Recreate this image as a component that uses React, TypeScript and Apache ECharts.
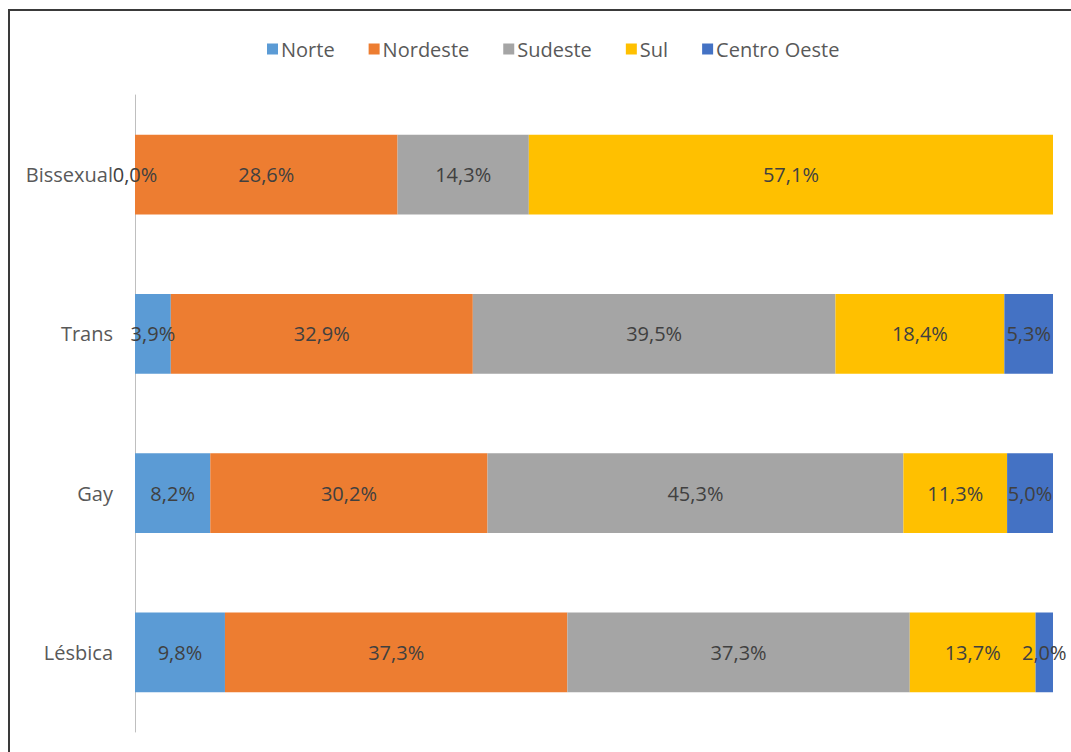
import React, { useEffect, useRef } from "react";
import * as echarts from "echarts";

const categories = ["Lésbica", "Gay", "Trans", "Bissexual"];
const seriesNames = ["Norte", "Nordeste", "Sudeste", "Sul", "Centro Oeste"];
const norte = [9.8, 8.2, 3.9, 0.0];
const nordeste = [37.3, 30.2, 32.9, 28.6];
const sudeste = [37.3, 45.3, 39.5, 14.3];
const sul = [13.7, 11.3, 18.4, 57.1];
const centroOeste = [2.0, 5.0, 5.3, null];
const colors = ["#5B9BD5", "#ED7D31", "#A5A5A5", "#FFC000", "#4472C4"];

export default function App() {
  const ref = useRef<HTMLDivElement>(null);
  useEffect(() => {
    document.body.style.margin = "0";
    const chart = echarts.init(ref.current!, undefined, { renderer: "svg" });
    const data = [norte, nordeste, sudeste, sul, centroOeste];
    chart.setOption({
      animation: false,
      color: colors,
      legend: {
        top: 34,
        left: 262,
        itemWidth: 11,
        itemHeight: 11,
        itemGap: 34,
        icon: "rect",
        textStyle: { color: "#595959", fontSize: 20, fontFamily: "Open Sans", padding: [0, 0, 0, -2] },
        data: seriesNames,
      },
      graphic: [
        {
          type: "rect",
          shape: { x: 9, y: 10, width: 1100, height: 800 },
          style: { fill: "none", stroke: "#3a3a3a", lineWidth: 2 },
          silent: true,
        },
      ],
      grid: { left: 135, right: 18, top: 95, bottom: 20 },
      xAxis: {
        type: "value",
        min: 0,
        max: 100,
        show: false,
        splitLine: { show: false },
      },
      yAxis: {
        type: "category",
        data: categories,
        axisLine: { show: true, lineStyle: { color: "#BFBFBF" } },
        axisTick: { show: false },
        axisLabel: { color: "#595959", fontSize: 20, margin: 22, fontFamily: "Open Sans" },
      },
      series: seriesNames.map((name, i) => ({
        name,
        type: "bar",
        stack: "total",
        barWidth: "50%",
        data: data[i],
        label: {
          show: true,
          position: "inside",
          color: "#404040",
          fontSize: 20,
          fontFamily: "Open Sans",
          formatter: (p: any) => p.value == null ? "" : p.value.toFixed(1).replace(".", ",") + "%",
        },
      })),
    });
    return () => chart.dispose();
  }, []);
  return <div ref={ref} style={{ width: 1071, height: 752 }} />;
}
